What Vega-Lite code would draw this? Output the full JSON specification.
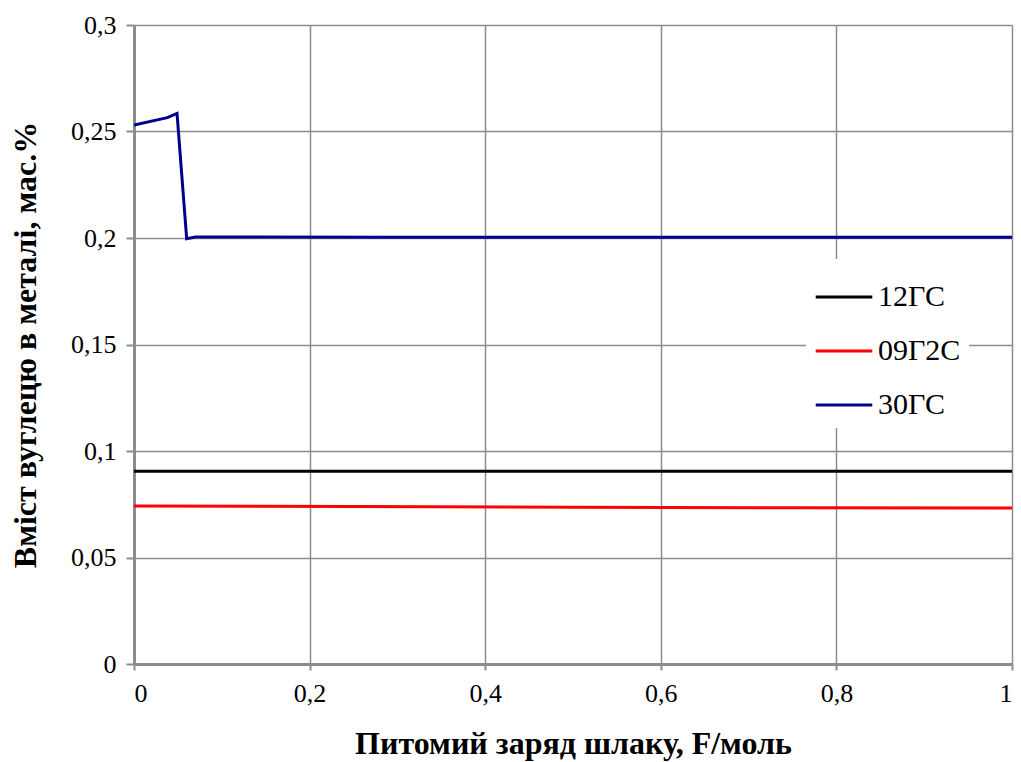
{
  "$schema": "https://vega.github.io/schema/vega-lite/v6.json",
  "width": 878,
  "height": 639,
  "autosize": {"type": "none"},
  "padding": {"left": 134, "top": 25, "right": 9, "bottom": 98},
  "background": "white",
  "config": {
    "view": {"stroke": null},
    "font": "serif",
    "axis": {"labelFont": "serif", "titleFont": "serif"}
  },
  "data": {
    "values": [
      {"s": "12ГС", "x": 0, "y": 0.0905},
      {"s": "12ГС", "x": 0.25, "y": 0.0905},
      {"s": "12ГС", "x": 0.5, "y": 0.0905},
      {"s": "12ГС", "x": 0.75, "y": 0.0905},
      {"s": "12ГС", "x": 1, "y": 0.0905},
      {"s": "09Г2С", "x": 0, "y": 0.0742},
      {"s": "09Г2С", "x": 0.25, "y": 0.0739},
      {"s": "09Г2С", "x": 0.5, "y": 0.0736},
      {"s": "09Г2С", "x": 0.75, "y": 0.0733},
      {"s": "09Г2С", "x": 1, "y": 0.0732},
      {"s": "30ГС", "x": 0, "y": 0.253},
      {"s": "30ГС", "x": 0.038, "y": 0.2565},
      {"s": "30ГС", "x": 0.049, "y": 0.2585},
      {"s": "30ГС", "x": 0.06, "y": 0.1997},
      {"s": "30ГС", "x": 0.07, "y": 0.2005},
      {"s": "30ГС", "x": 0.3, "y": 0.2003},
      {"s": "30ГС", "x": 0.6, "y": 0.2003},
      {"s": "30ГС", "x": 1, "y": 0.2003}
    ]
  },
  "mark": {"type": "line", "strokeWidth": 3, "clip": true},
  "encoding": {
    "x": {
      "field": "x",
      "type": "quantitative",
      "scale": {"domain": [0, 1], "nice": false},
      "axis": {
        "title": "Питомий заряд шлаку, F/моль",
        "values": [0, 0.2, 0.4, 0.6, 0.8, 1],
        "format": ".1~f",
        "labelExpr": "replace(datum.label, '.', ',')",
        "labelFont": "serif",
        "labelFontSize": 26,
        "labelColor": "#000",
        "labelPadding": 10,
        "titleFont": "serif",
        "titleFontSize": 32,
        "titleFontWeight": "bold",
        "titleColor": "#000",
        "titlePadding": 22,
        "domainColor": "#8c8c8c",
        "domainWidth": 3,
        "tickColor": "#8c8c8c",
        "tickWidth": 2,
        "tickSize": 6,
        "grid": true,
        "gridColor": "#8c8c8c",
        "gridWidth": 1.5
      }
    },
    "y": {
      "field": "y",
      "type": "quantitative",
      "scale": {"domain": [0, 0.3], "nice": false},
      "axis": {
        "title": "Вміст вуглецю в металі, мас.%",
        "values": [0, 0.05, 0.1, 0.15, 0.2, 0.25, 0.3],
        "format": ".2~f",
        "labelExpr": "replace(datum.label, '.', ',')",
        "labelFont": "serif",
        "labelFontSize": 26,
        "labelColor": "#000",
        "labelPadding": 10,
        "titleFont": "serif",
        "titleFontSize": 32,
        "titleFontWeight": "bold",
        "titleColor": "#000",
        "titlePadding": 28,
        "domainColor": "#8c8c8c",
        "domainWidth": 3,
        "tickColor": "#8c8c8c",
        "tickWidth": 2,
        "tickSize": 8,
        "grid": true,
        "gridColor": "#8c8c8c",
        "gridWidth": 1.5
      }
    },
    "color": {
      "field": "s",
      "type": "nominal",
      "scale": {"domain": ["12ГС", "09Г2С", "30ГС"], "range": ["#000000", "#ff0000", "#00008b"]},
      "legend": {
        "title": null,
        "orient": "none",
        "legendX": 672,
        "legendY": 234,
        "padding": 8,
        "symbolType": "stroke",
        "symbolSize": 3200,
        "symbolStrokeWidth": 3,
        "labelFont": "serif",
        "labelFontSize": 30,
        "labelColor": "#000",
        "rowPadding": 9,
        "fillColor": "white"
      }
    }
  }
}
